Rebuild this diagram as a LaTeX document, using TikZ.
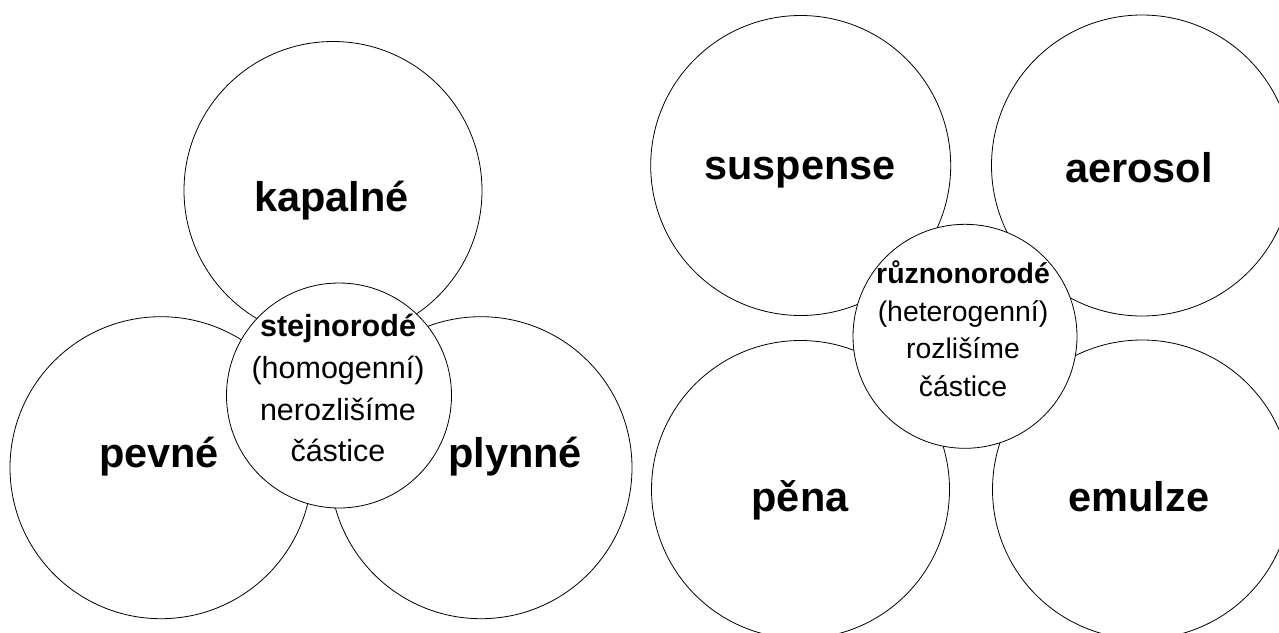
\documentclass[tikz,border=0pt]{standalone}
\usepackage{fontspec}
\setmainfont{Liberation Sans}
\begin{document}
\begin{tikzpicture}[x=1pt,y=-1pt,
  outer/.style={circle,draw,line width=0.8pt,minimum size=#1,inner sep=0pt},
  hub/.style={circle,draw,fill=white,line width=0.8pt,minimum size=#1,inner sep=0pt},
  lbl/.style={font=\fontsize{41.5}{48}\selectfont\bfseries,anchor=base},
  hubtext/.style={align=center,anchor=base}]
\clip (0,0) rectangle (1279,632);
\fill[white] (0,0) rectangle (1279,632);

% homogeneous mixtures
\node[outer=298pt] (kap) at (333,190.5) {};
\node[outer=302pt] (pev) at (161,467.7) {};
\node[outer=302pt] (ply) at (481,467.7) {};
\node[lbl] (kapt) at (331.5,211) {kapalné};
\node[lbl] (pevt) at (159,467.7) {pevné};
\node[lbl] (plyt) at (515,467.7) {plynné};
\node[hub=225pt] (hom) at (339,395.5) {};
% anchored at the baseline of the last line
\node[hubtext, font=\fontsize{30.5}{41.6}\selectfont] (homt) at (338,461.7)
  {\textbf{stejnorodé}\\(homogenní)\\nerozlišíme\\částice};

% heterogeneous mixtures
\node[outer=300pt] (sus) at (800.7,165.5) {};
\node[outer=301pt] (aer) at (1142,165.5) {};
\node[outer=298pt] (pen) at (800.5,489.5) {};
\node[outer=299pt] (emu) at (1142,489.5) {};
\node[lbl] (sust) at (800,179.4) {suspense};
\node[lbl] (aert) at (1139,182.3) {aerosol};
\node[lbl] (pent) at (800,511) {pěna};
\node[lbl] (emut) at (1139,511) {emulze};
\node[hub=224pt] (het) at (965,336.3) {};
\node[hubtext, font=\fontsize{28.4}{37.8}\selectfont] (hett) at (963,396.7)
  {\textbf{různonorodé}\\(heterogenní)\\rozlišíme\\částice};
\end{tikzpicture}
\end{document}
